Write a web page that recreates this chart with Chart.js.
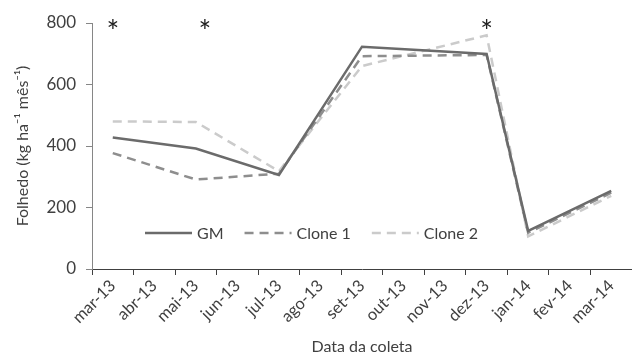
<!DOCTYPE html>
<html><head><meta charset="utf-8">
<script src="https://cdn.jsdelivr.net/npm/chart.js@4.4.1/dist/chart.umd.min.js"></script>
<style>html,body{margin:0;padding:0;background:#fff}#wrap{width:632px;height:356px;position:relative}</style>
</head><body><div id="wrap"><canvas id="c" width="632" height="356"></canvas></div>
<script>
const categories = ['mar-13','abr-13','mai-13','jun-13','jul-13','ago-13','set-13','out-13','nov-13','dez-13','jan-14','fev-14','mar-14'];
const gm     = [428, null, 392, null, 306, null, 723, null, null, 699, 124, null, 254];
const clone1 = [377, null, 291, null, 310, null, 692, null, null, 696, 118, null, 248];
const clone2 = [480, null, 478, null, 318, null, 660, null, null, 760, 106, null, 238];
const yTicks = [0, 200, 400, 600, 800];
const significant = ['mar-13', 'mai-13', 'dez-13'];

const FONT = 'Lato, Carlito, "Liberation Sans", sans-serif';
const TXT = '#404040';
Chart.defaults.font.family = FONT;
Chart.defaults.color = TXT;

const extrasPlugin = {
  id: 'extras',
  afterDraw(chart) {
    const {ctx, chartArea, scales} = chart;
    ctx.save();
    // asterisks
    ctx.fillStyle = '#202020';
    ctx.font = '30px ' + FONT;
    ctx.textAlign = 'center';
    ctx.textBaseline = 'middle';
    const dx = {'mai-13': 9};
    significant.forEach(lbl => {
      const i = categories.indexOf(lbl);
      const x = scales.x.getPixelForValue(i) + (dx[lbl] || 0);
      ctx.fillText('*', x, chartArea.top + 9);
    });
    // legend
    ctx.font = '16px ' + FONT;
    ctx.textAlign = 'left';
    let x = chartArea.left + 53;
    const y = chartArea.bottom - 36;
    chart.data.datasets.forEach(ds => {
      ctx.strokeStyle = ds.borderColor;
      ctx.lineWidth = ds.borderWidth;
      ctx.setLineDash(ds.borderDash || []);
      ctx.beginPath();
      ctx.moveTo(x, y);
      ctx.lineTo(x + 47, y);
      ctx.stroke();
      ctx.setLineDash([]);
      ctx.fillStyle = TXT;
      ctx.fillText(ds.label, x + 52, y + 1);
      x += 52 + ctx.measureText(ds.label).width + 21;
    });
    ctx.restore();
  }
};

new Chart(document.getElementById('c'), {
  type: 'line',
  data: {
    labels: categories,
    datasets: [
      {label: 'GM', data: gm, borderColor: '#6b6b6b', borderWidth: 2.5, pointRadius: 0, spanGaps: true, tension: 0},
      {label: 'Clone 1', data: clone1, borderColor: '#8e8e8e', borderWidth: 2.5, borderDash: [9, 6], pointRadius: 0, spanGaps: true, tension: 0},
      {label: 'Clone 2', data: clone2, borderColor: '#cbcbcb', borderWidth: 2.5, borderDash: [9, 6], pointRadius: 0, spanGaps: true, tension: 0}
    ]
  },
  options: {
    responsive: false,
    animation: false,
    layout: {padding: {top: 23, right: 0, bottom: 0, left: 0}},
    plugins: {legend: {display: false}, tooltip: {enabled: false}},
    scales: {
      x: {
        offset: true,
        grid: {offset: true, drawOnChartArea: false, drawTicks: true, tickLength: 6, color: '#404040', lineWidth: 1},
        border: {color: '#404040', width: 1},
        ticks: {maxRotation: 45, minRotation: 45, autoSkip: false, padding: 1, font: {size: 16.5}, color: TXT},
        title: {display: true, text: 'Data da coleta', font: {size: 16}, color: TXT, padding: {top: 0, bottom: 0}},
        afterFit(s) { s.height = 87; }
      },
      y: {
        min: 0, max: 800,
        afterBuildTicks(s) { s.ticks = yTicks.map(v => ({value: v})); },
        grid: {drawOnChartArea: false, drawTicks: true, tickLength: 6, color: '#868686'},
        border: {color: '#868686', width: 1},
        ticks: {padding: 10, font: {size: 17}, color: TXT},
        title: {display: true, text: 'Folhedo (kg ha⁻¹ mês⁻¹)', font: {size: 16}, color: TXT, padding: {top: 13, bottom: 0}},
        afterFit(s) { s.width = 92; }
      }
    }
  },
  plugins: [extrasPlugin]
});
</script>
</body></html>
